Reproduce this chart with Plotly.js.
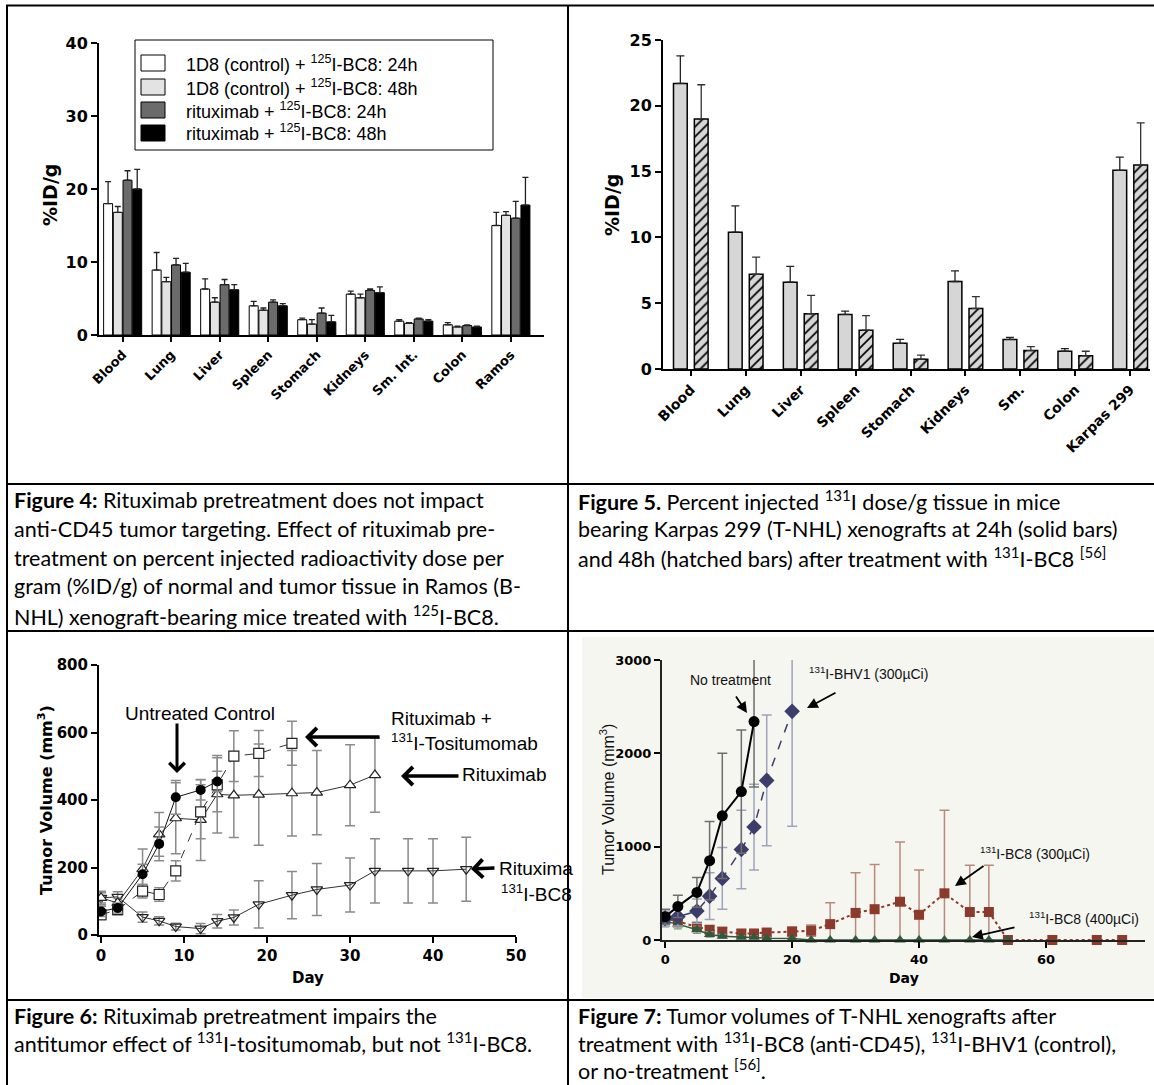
<!DOCTYPE html>
<html><head><meta charset="utf-8">
<script src="https://cdn.plot.ly/plotly-3.0.1.min.js"></script>
<style>html,body{margin:0;padding:0;background:#fff;}#chart{width:1154px;height:1085px;}</style>
</head><body><div id="chart"></div>
<script>
// ---------------- Figure 4 (Ramos, 125I-BC8) ----------------
const fig4Categories = ['Blood','Lung','Liver','Spleen','Stomach','Kidneys','Sm. Int.','Colon','Ramos'];
const fig4Names = ['1D8 (control) + <sup>125</sup>I-BC8: 24h','1D8 (control) + <sup>125</sup>I-BC8: 48h','rituximab + <sup>125</sup>I-BC8: 24h','rituximab + <sup>125</sup>I-BC8: 48h'];
const ctrl24 = [18.0, 8.9, 6.3, 4.0, 2.1, 5.6, 1.9, 1.4, 15.0];
const ctrl24Err = [3.0, 2.4, 1.4, 0.6, 0.2, 0.4, 0.2, 0.3, 1.8];
const ctrl48 = [16.8, 7.3, 4.5, 3.4, 1.5, 5.1, 1.6, 1.1, 16.4];
const ctrl48Err = [0.8, 0.6, 0.6, 0.3, 0.6, 0.5, 0.1, 0.1, 0.5];
const ritux24 = [21.2, 9.6, 6.9, 4.5, 3.0, 6.1, 2.2, 1.3, 16.0];
const ritux24Err = [1.3, 0.9, 0.7, 0.3, 0.7, 0.2, 0.1, 0.1, 2.3];
const ritux48 = [20.0, 8.6, 6.2, 4.0, 1.8, 5.8, 1.9, 1.1, 17.8];
const ritux48Err = [2.7, 1.2, 0.7, 0.3, 0.9, 0.8, 0.2, 0.1, 3.8];
const fig4Colors = ['#ffffff','#e3e3e3','#6b6b6b','#000000'];
const fig4YTicks = [0, 10, 20, 30, 40];

// ---------------- Figure 5 (Karpas 299, 131I-BC8) ----------------
const fig5Categories = ['Blood','Lung','Liver','Spleen','Stomach','Kidneys','Sm.','Colon','Karpas 299'];
const h24 = [21.7, 10.4, 6.6, 4.15, 1.95, 6.65, 2.25, 1.35, 15.1];
const h24Err = [2.1, 2.0, 1.2, 0.25, 0.3, 0.8, 0.15, 0.2, 1.0];
const h48 = [19.0, 7.2, 4.2, 2.95, 0.75, 4.6, 1.4, 1.0, 15.5];
const h48Err = [2.6, 1.3, 1.4, 1.1, 0.3, 0.9, 0.3, 0.35, 3.2];
const fig5YTicks = [0, 5, 10, 15, 20, 25];

// ---------------- Figure 6 (tumor volume, days) ----------------
const untreatedDays = [0, 2, 5, 7, 9, 12, 14];
const untreatedVol = [70, 80, 180, 270, 408, 430, 455];
const untreatedErr = [15, 15, 30, 50, 50, 30, 30];
const rtxTosDays = [0, 2, 5, 7, 9, 12, 14, 16, 19, 23];
const rtxTosVol = [60, 75, 130, 120, 190, 365, 445, 530, 538, 568];
const rtxTosErr = [15, 15, 20, 20, 30, 80, 80, 75, 68, 65];
const rtxDays = [0, 2, 5, 7, 9, 12, 14, 16, 19, 23, 26, 30, 33];
const rtxVol = [110, 95, 195, 298, 346, 341, 417, 414, 416, 420, 422, 444, 474];
const rtxErr = [20, 15, 60, 65, 105, 120, 115, 125, 150, 127, 125, 120, 110];
const rtxBc8Days = [0, 2, 5, 7, 9, 12, 14, 16, 19, 23, 26, 30, 33, 37, 40, 44];
const rtxBc8Vol = [110, 113, 53, 42, 25, 19, 41, 52, 91, 118, 135, 148, 190, 190, 190, 195];
const rtxBc8Err = [15, 15, 15, 12, 10, 15, 20, 22, 70, 70, 77, 80, 95, 95, 95, 95];
const fig6XTicks = [0, 10, 20, 30, 40, 50];
const fig6YTicks = [0, 200, 400, 600, 800];

// ---------------- Figure 7 (T-NHL xenografts) ----------------
const noTxDays = [0, 2, 5, 7, 9, 12, 14];
const noTxVol = [250, 360, 510, 850, 1330, 1590, 2340];
const noTxErr = [80, 120, 160, 420, 670, 660, 700];
const bhvDays = [0, 2, 5, 7, 9, 12, 14, 16, 20];
const bhvVol = [230, 250, 310, 470, 660, 970, 1210, 1710, 2450];
const bhvErr = [80, 100, 130, 250, 330, 420, 460, 700, 1230];
const bc8LowDays = [0, 2, 5, 7, 9, 12, 14, 16, 20, 23, 26, 30, 33, 37, 40, 44, 48, 51, 54, 61, 68, 72];
const bc8LowVol = [230, 200, 140, 110, 90, 70, 70, 80, 90, 100, 170, 290, 330, 410, 270, 500, 300, 300, 0, 0, 0, 0];
const bc8LowErr = [60, 60, 50, 40, 40, 40, 40, 40, 50, 60, 230, 430, 480, 640, 480, 890, 500, 500, 0, 0, 0, 0];
const bc8HighDays = [0, 2, 5, 7, 9, 12, 14, 16, 20, 23, 26, 30, 33, 37, 40, 44, 48, 51, 54];
const bc8HighVol = [200, 170, 110, 60, 40, 30, 30, 20, 15, 0, 0, 0, 0, 0, 0, 0, 0, 0, 0];
const bc8HighErr = [60, 50, 40, 30, 20, 15, 15, 10, 10, 0, 0, 0, 0, 0, 0, 0, 0, 0, 0];
const fig7XTicks = [0, 20, 40, 60];
const fig7YTicks = [0, 1000, 2000, 3000];

// ---------------- helpers ----------------
const W = 1154, H = 1085;
const X = v => v / W;
const Y = v => 1 - v / H;
const BOLD = {family: 'DejaVu Sans', weight: 'bold', color: '#000'};
const ARIAL = 'Liberation Sans, Arial, sans-serif';
const axBase = {showgrid: false, zeroline: false, showline: true, linecolor: '#000', linewidth: 2,
  ticks: 'outside', tickcolor: '#000', tickwidth: 2, ticklen: 6, fixedrange: true};
// lower error bar limited at the x axis (nothing is drawn below zero)
const floorMinus = (vals, errs) => errs.map((e, i) => Math.min(e, vals[i]));

const traces = [];
// Figure 4 bars
const f4vals = [ctrl24, ctrl48, ritux24, ritux48];
const f4errs = [ctrl24Err, ctrl48Err, ritux24Err, ritux48Err];
f4vals.forEach((v, i) => {
  traces.push({type: 'bar', x: fig4Categories, y: v, name: fig4Names[i], xaxis: 'x', yaxis: 'y',
    width: 0.185, offset: -0.395 + i * 0.2,
    marker: {color: fig4Colors[i], line: {color: '#000', width: 1}},
    error_y: {type: 'data', symmetric: false, array: f4errs[i], arrayminus: v.map(() => 0),
      color: '#222', thickness: 1.3, width: 3}});
});
// Figure 5 bars
traces.push({type: 'bar', x: fig5Categories, y: h24, name: '24h', xaxis: 'x2', yaxis: 'y2',
  width: 0.25, offset: -0.315,
  marker: {color: '#d6d6d6', line: {color: '#000', width: 1.5}},
  error_y: {type: 'data', symmetric: false, array: h24Err, arrayminus: h24.map(() => 0), color: '#222', thickness: 1.3, width: 4}});
traces.push({type: 'bar', x: fig5Categories, y: h48, name: '48h', xaxis: 'x2', yaxis: 'y2',
  width: 0.25, offset: 0.065,
  marker: {color: '#d6d6d6', line: {color: '#000', width: 1.5},
    pattern: {shape: '/', fgcolor: '#000', bgcolor: '#d6d6d6', size: 7, solidity: 0.24, fillmode: 'replace'}},
  error_y: {type: 'data', symmetric: false, array: h48Err, arrayminus: h48.map(() => 0), color: '#333', thickness: 1.3, width: 4}});

// Figure 6 lines
const eb6 = arr => ({type: 'data', array: arr, color: '#8a8a8a', thickness: 1.5, width: 5});
traces.push({type: 'scatter', mode: 'lines+markers', x: rtxBc8Days, y: rtxBc8Vol, name: 'Rituximab + 131I-BC8', xaxis: 'x3', yaxis: 'y3',
  line: {color: '#333', width: 1}, marker: {symbol: 'triangle-down-open', size: 10, color: '#222', line: {width: 1.2}}, error_y: eb6(rtxBc8Err)});
traces.push({type: 'scatter', mode: 'lines+markers', x: rtxDays, y: rtxVol, name: 'Rituximab', xaxis: 'x3', yaxis: 'y3',
  line: {color: '#333', width: 1}, marker: {symbol: 'triangle-up', size: 10, color: '#fff', line: {color: '#222', width: 1.2}}, error_y: eb6(rtxErr)});
traces.push({type: 'scatter', mode: 'lines+markers', x: rtxTosDays, y: rtxTosVol, name: 'Rituximab + 131I-Tositumomab', xaxis: 'x3', yaxis: 'y3',
  line: {color: '#333', width: 1, dash: 'dash'}, marker: {symbol: 'square', size: 10, color: '#fff', line: {color: '#222', width: 1.2}}, error_y: eb6(rtxTosErr)});
traces.push({type: 'scatter', mode: 'lines+markers', x: untreatedDays, y: untreatedVol, name: 'Untreated Control', xaxis: 'x3', yaxis: 'y3',
  line: {color: '#111', width: 1}, marker: {symbol: 'circle', size: 10, color: '#000'}, error_y: eb6(untreatedErr)});

// Figure 7 lines
traces.push({type: 'scatter', mode: 'lines+markers', x: bc8LowDays, y: bc8LowVol, name: '131I-BC8 (300µCi)', xaxis: 'x4', yaxis: 'y4',
  cliponaxis: false,
  line: {color: '#8b3a2b', width: 2, dash: 'dot'}, marker: {symbol: 'square', size: 10, color: '#8b3a2b'},
  error_y: {type: 'data', symmetric: false, array: bc8LowErr, arrayminus: floorMinus(bc8LowVol, bc8LowErr), color: '#b98a7c', thickness: 1.5, width: 5}});
traces.push({type: 'scatter', mode: 'lines+markers', x: bc8HighDays, y: bc8HighVol, name: '131I-BC8 (400µCi)', xaxis: 'x4', yaxis: 'y4',
  cliponaxis: false,
  line: {color: '#2f5b3c', width: 1.5}, marker: {symbol: 'triangle-up', size: 10, color: '#2f5b3c'},
  error_y: {type: 'data', symmetric: false, array: bc8HighErr, arrayminus: floorMinus(bc8HighVol, bc8HighErr), color: '#7f9a86', thickness: 1.2, width: 4}});
traces.push({type: 'scatter', mode: 'lines+markers', x: bhvDays, y: bhvVol, name: '131I-BHV1 (300µCi)', xaxis: 'x4', yaxis: 'y4',
  line: {color: '#3d3d6b', width: 1.5, dash: 'dash'}, marker: {symbol: 'diamond', size: 12, color: '#3d3d6b'},
  error_y: {type: 'data', array: bhvErr, color: '#9ea3bd', thickness: 1.5, width: 5}});
traces.push({type: 'scatter', mode: 'lines+markers', x: noTxDays, y: noTxVol, name: 'No treatment', xaxis: 'x4', yaxis: 'y4',
  line: {color: '#000', width: 2}, marker: {symbol: 'circle', size: 11, color: '#000'},
  error_y: {type: 'data', array: noTxErr, color: '#6e6e6e', thickness: 1.5, width: 5}});

// ---------------- shapes (table grid, fig 7 background, fig 4 key) ----------------
const ln = (x0, y0, x1, y1, w) => ({type: 'line', xref: 'paper', yref: 'paper', x0: X(x0), y0: Y(y0), x1: X(x1), y1: Y(y1), line: {color: '#000', width: w || 2}});
const shapes = [
  {type: 'rect', xref: 'paper', yref: 'paper', layer: 'below', x0: X(582), x1: X(1154), y0: Y(637), y1: Y(998), fillcolor: '#f6f6f1', line: {width: 0}},
  ln(6, 5.5, 1154, 5.5), ln(7, 5, 7, 1085), ln(568, 5, 568, 1085),
  ln(7, 484, 1154, 484), ln(7, 631, 1154, 631), ln(7, 1000, 1154, 1000),
  {type: 'rect', xref: 'paper', yref: 'paper', x0: X(135), x1: X(493), y0: Y(150), y1: Y(40), line: {color: '#000', width: 1}, fillcolor: 'rgba(0,0,0,0)'}
];
const keyRows = [63, 87, 110, 133];
const annotations = [];
keyRows.forEach((ry, i) => {
  shapes.push({type: 'rect', xref: 'paper', yref: 'paper', x0: X(141), x1: X(165), y0: Y(ry + 8), y1: Y(ry - 8), fillcolor: fig4Colors[i], line: {color: '#000', width: 1}});
  annotations.push({xref: 'paper', yref: 'paper', x: X(184), y: Y(ry), xanchor: 'left', yanchor: 'middle', showarrow: false,
    text: fig4Names[i], font: {family: ARIAL, size: 18, color: '#000'}});
});

// ---------------- text annotations ----------------
const txt = (x, y, t, opt) => Object.assign({xref: 'paper', yref: 'paper', x: X(x), y: Y(y), text: t, showarrow: false,
  xanchor: 'left', yanchor: 'middle', font: {family: ARIAL, size: 18, color: '#000'}}, opt || {});
const arrow = (hx, hy, tx, ty, w, head, size) => ({xref: 'paper', yref: 'paper', x: X(hx), y: Y(hy), ax: tx - hx, ay: ty - hy,
  axref: 'pixel', ayref: 'pixel', text: '', showarrow: true, arrowhead: head, arrowsize: size || 1, arrowwidth: w, arrowcolor: '#000'});

// axis titles
annotations.push(txt(50, 195, '%ID/g', {xanchor: 'center', textangle: -90, font: Object.assign({}, BOLD, {size: 19})}));
annotations.push(txt(612, 205, '%ID/g', {xanchor: 'center', textangle: -90, font: Object.assign({}, BOLD, {size: 19})}));
annotations.push(txt(45, 800, 'Tumor Volume (mm<sup>3</sup>)', {xanchor: 'center', textangle: -90, font: Object.assign({}, BOLD, {size: 16})}));
annotations.push(txt(308, 978, 'Day', {xanchor: 'center', font: Object.assign({}, BOLD, {size: 15})}));
annotations.push(txt(607, 800, 'Tumor Volume (mm<sup>3</sup>)', {xanchor: 'center', textangle: -90, font: {family: ARIAL, size: 16, color: '#111'}}));
annotations.push(txt(904, 978, 'Day', {xanchor: 'center', font: Object.assign({}, BOLD, {size: 14})}));

// figure 6 labels and arrows
annotations.push(txt(200, 713, 'Untreated Control', {xanchor: 'center', font: {family: ARIAL, size: 19, color: '#000'}}));
annotations.push(arrow(177, 773, 177, 722, 3, 4));
annotations.push(txt(389, 718, 'Rituximab +', {font: {family: ARIAL, size: 19, color: '#000'}}));
annotations.push(txt(389, 742, '<sup>131</sup>I-Tositumomab', {font: {family: ARIAL, size: 19, color: '#000'}}));
annotations.push(arrow(305, 737, 381, 737, 3.5, 4));
annotations.push(txt(460, 774, 'Rituximab', {font: {family: ARIAL, size: 19, color: '#000'}}));
annotations.push(arrow(401, 776, 460, 776, 3.5, 4));
annotations.push(txt(497, 868, 'Rituxima', {font: {family: ARIAL, size: 19, color: '#000'}}));
annotations.push(txt(499, 893, '<sup>131</sup>I-BC8', {font: {family: ARIAL, size: 19, color: '#000'}}));
annotations.push(arrow(471, 869, 496, 868, 3.5, 4));

// figure 7 labels and arrows
const f7font = {family: ARIAL, size: 14, color: '#111'};
annotations.push(txt(730, 680, 'No treatment', {xanchor: 'center', font: f7font}));
annotations.push(arrow(747, 713, 735, 695, 1.8, 2, 1.2));
annotations.push(txt(807, 673, '<sup>131</sup>I-BHV1 (300µCi)', {font: f7font}));
annotations.push(arrow(807, 708, 837, 692, 1.8, 2, 1.2));
annotations.push(txt(978, 853, '<sup>131</sup>I-BC8 (300µCi)', {font: f7font}));
annotations.push(arrow(955, 886, 985, 865, 1.8, 2, 1.2));
annotations.push(txt(1027, 918, '<sup>131</sup>I-BC8 (400µCi)', {font: f7font}));
annotations.push(arrow(972, 937, 1016, 927, 1.8, 2, 1.2));

// captions
const capFont = {family: 'Lato, Carlito, Calibri, sans-serif', size: 21.5, color: '#000'};
const cap = (x, y, t) => annotations.push(txt(x, y, t, {font: capFont}));
const cap4 = ['<b>Figure 4:</b> Rituximab pretreatment does not impact',
  'anti-CD45 tumor targeting. Effect of rituximab pre-',
  'treatment on percent injected radioactivity dose per',
  'gram (%ID/g) of normal and tumor tissue in Ramos (B-',
  'NHL) xenograft-bearing mice treated with <sup>125</sup>I-BC8.'];
const cap5 = ['<b>Figure 5.</b> Percent injected <sup>131</sup>I dose/g tissue in mice',
  'bearing Karpas 299 (T-NHL) xenografts at 24h (solid bars)',
  'and 48h (hatched bars) after treatment with <sup>131</sup>I-BC8 <sup>[56]</sup>'];
const cap6 = ['<b>Figure 6:</b> Rituximab pretreatment impairs the',
  'antitumor effect of <sup>131</sup>I-tositumomab, but not <sup>131</sup>I-BC8.'];
const cap7 = ['<b>Figure 7:</b> Tumor volumes of T-NHL xenografts after',
  'treatment with <sup>131</sup>I-BC8 (anti-CD45), <sup>131</sup>I-BHV1 (control),',
  'or no-treatment <sup>[56]</sup>.'];
cap4.forEach((t, i) => cap(12, 500 + 28.8 * i, t));
cap5.forEach((t, i) => cap(576, 500 + 28.8 * i, t));
cap6.forEach((t, i) => cap(12, 1016 + 26.5 * i, t));
cap7.forEach((t, i) => cap(576, 1016 + 26.5 * i, t));

const layout = {
  width: W, height: H, margin: {l: 0, r: 0, t: 0, b: 0}, showlegend: false,
  paper_bgcolor: '#fff', plot_bgcolor: 'rgba(0,0,0,0)', font: {family: ARIAL, color: '#000'},
  xaxis: Object.assign({}, axBase, {domain: [X(99), X(544)], anchor: 'y', range: [-0.49, 8.68], tickangle: -45,
    ticklen: 5, tickfont: Object.assign({}, BOLD, {size: 13})}),
  yaxis: Object.assign({}, axBase, {domain: [Y(335), Y(43)], anchor: 'x', range: [0, 40], tickvals: fig4YTicks,
    tickfont: Object.assign({}, BOLD, {size: 16})}),
  xaxis2: Object.assign({}, axBase, {domain: [X(663), X(1150)], anchor: 'y2', range: [-0.506, 8.36], tickangle: -45,
    ticklen: 5, tickfont: Object.assign({}, BOLD, {size: 14})}),
  yaxis2: Object.assign({}, axBase, {domain: [Y(369), Y(40)], anchor: 'x2', range: [0, 25], tickvals: fig5YTicks,
    tickfont: Object.assign({}, BOLD, {size: 16})}),
  xaxis3: Object.assign({}, axBase, {domain: [X(99), X(516)], anchor: 'y3', range: [-0.25, 50], tickvals: fig6XTicks,
    tickfont: Object.assign({}, BOLD, {size: 15})}),
  yaxis3: Object.assign({}, axBase, {domain: [Y(935), Y(665)], anchor: 'x3', range: [0, 800], tickvals: fig6YTicks,
    tickfont: Object.assign({}, BOLD, {size: 15})}),
  xaxis4: Object.assign({}, axBase, {domain: [X(662), X(1145)], anchor: 'y4', range: [-0.5, 75.6], tickvals: fig7XTicks,
    linecolor: '#222', tickfont: Object.assign({}, BOLD, {size: 13})}),
  yaxis4: Object.assign({}, axBase, {domain: [Y(940), Y(660)], anchor: 'x4', range: [0, 3000], tickvals: fig7YTicks,
    linecolor: '#222', tickfont: Object.assign({}, BOLD, {size: 13})}),
  shapes: shapes,
  annotations: annotations
};
Plotly.newPlot('chart', traces, layout, {staticPlot: true, displayModeBar: false});
</script></body></html>
